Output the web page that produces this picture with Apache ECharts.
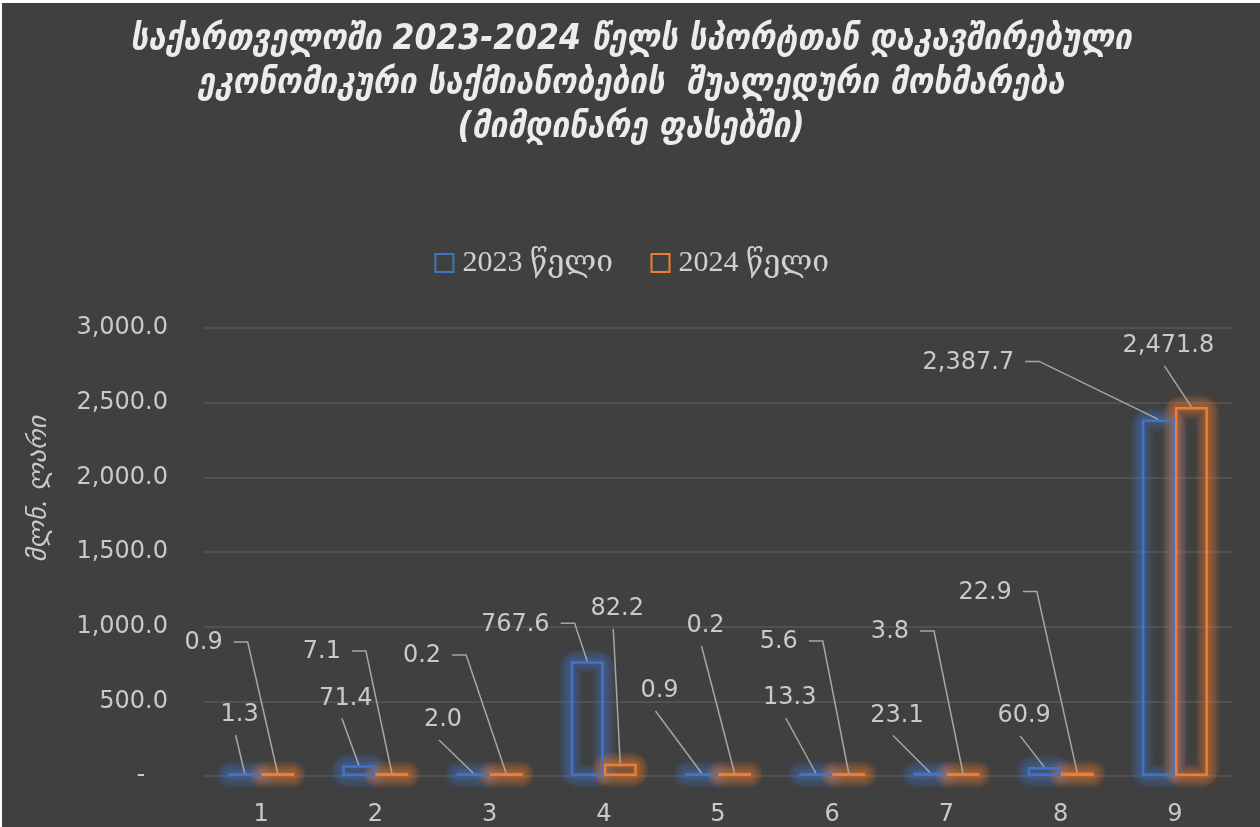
<!DOCTYPE html>
<html>
<head>
<meta charset="utf-8">
<script src="https://cdn.jsdelivr.net/npm/echarts@6/dist/echarts.min.js"></script>
<style>
html,body{margin:0;padding:0;background:#ffffff;}
#chart{position:absolute;left:2px;top:3px;width:1258px;height:824px;}
</style>
</head>
<body>
<div id="chart"></div>
<script>
// ---- data ----
const categories = ['1','2','3','4','5','6','7','8','9'];
const seriesNames = ['2023 წელი', '2024 წელი'];
const values2023 = [1.3, 71.4, 2.0, 767.6, 0.9, 13.3, 23.1, 60.9, 2387.7];
const values2024 = [0.9, 7.1, 0.2, 82.2, 0.2, 5.6, 3.8, 22.9, 2471.8];
const yTicks = [0, 500, 1000, 1500, 2000, 2500, 3000];
const titleText = 'საქართველოში 2023-2024 წელს სპორტთან დაკავშირებული\nეკონომიკური საქმიანობების  შუალედური მოხმარება\n(მიმდინარე ფასებში)';
const yAxisName = 'მლნ. ლარი';

// ---- label placement (offset of label centre from bar top centre, and leader style) ----
const labelPlacement = [
  [[-5,-58,'d'],[-13,-67,'d'],[-30,-53,'d'],[-72,-37,'e'],[-42,-82,'d'],[-26,-75,'d'],[-33,-57,'d'],[-20,-51,'d'],[-190,-57,'e']],
  [[-74,-130,'e'],[-70,-121,'e'],[-84,-117,'e'],[-3,-155,'d'],[-29,-147,'d'],[-70,-131,'e'],[-73,-141,'e'],[-92,-180,'e'],[-23,-61,'d']]
];

const colors = ['#4472C4', '#ED7D31'];
const glowRGB = ['68,114,196', '237,125,49'];
const glowWidths = [22, 17, 12, 8, 5];
const BAR_W = 33;
const MIN_H = 3;
const numFmt = v => Number(v).toLocaleString('en-US', {minimumFractionDigits:1, maximumFractionDigits:1});
const numFont = 'DejaVu Sans';
const labelFontCss = '24px "DejaVu Sans"';
const measureCtx = document.createElement('canvas').getContext('2d');
measureCtx.font = labelFontCss;

const allValues = [values2023, values2024];
const pointData = [];
allValues.forEach((arr, s) => arr.forEach((v, i) => pointData.push([i, v, s])));

function makeSeries(i, data) {
  return {
    name: seriesNames[i],
    type: 'bar',
    data: data,
    barWidth: BAR_W,
    barGap: '0%',
    barMinHeight: MIN_H,
    z: 3,
    itemStyle: {
      color: 'none',
      borderColor: colors[i],
      borderWidth: 2.5
    }
  };
}

function barGeom(api) {
  const i = api.value(0), v = api.value(1), s = api.value(2);
  const p = api.coord([i, v]);
  const base = api.coord([i, 0]);
  const x0 = p[0] + (s === 0 ? -BAR_W : 0);
  const top = Math.min(p[1], base[1] - MIN_H);
  return {i, v, s, x0, top, bottom: base[1], cx: x0 + BAR_W / 2};
}

function renderGlow(params, api) {
  const g = barGeom(api);
  return {
    type: 'group',
    children: glowWidths.map((w, k) => ({
      type: 'rect',
      shape: {x: g.x0, y: g.top, width: BAR_W, height: g.bottom - g.top, r: k === 0 ? 8 : 4},
      style: {
        fill: null,
        stroke: 'rgba(' + glowRGB[g.s] + ',0.12)',
        lineWidth: w,
        lineJoin: 'round',
        shadowBlur: k === 0 ? 8 : 0,
        shadowColor: 'rgba(' + glowRGB[g.s] + ',0.5)'
      }
    }))
  };
}

function renderLabel(params, api) {
  const g = barGeom(api);
  const pl = labelPlacement[g.s][g.i];
  const x = g.cx + pl[0], y = g.top + pl[1];
  const text = numFmt(g.v);
  const w = measureCtx.measureText(text).width;
  const h = 28;
  let pts;
  if (pl[2] === 'e') {
    pts = [[x + w / 2 + 11, y - 1], [x + w / 2 + 25, y - 1], [g.cx, g.top]];
  } else {
    pts = [[x - 4, y + h / 2 + 6], [g.cx, g.top]];
  }
  return {
    type: 'group',
    children: [
      {type: 'polyline', shape: {points: pts}, style: {stroke: '#a6a6a6', lineWidth: 1.5, fill: null}},
      {type: 'text', x: x, y: y, style: {text: text, fill: '#c9c9c9', font: labelFontCss, textAlign: 'center', textVerticalAlign: 'middle'}}
    ]
  };
}

const chart = echarts.init(document.getElementById('chart'));
chart.setOption({
  backgroundColor: '#404040',
  animation: false,
  title: {
    text: titleText,
    left: 'center',
    top: 10,
    textStyle: {
      color: '#ececec',
      fontSize: 35,
      fontWeight: 'bold',
      fontStyle: 'italic',
      fontFamily: 'DejaVu Sans Condensed',
      lineHeight: 44
    }
  },
  legend: {
    data: seriesNames,
    top: 240,
    left: 'center',
    itemWidth: 18,
    itemHeight: 18,
    itemGap: 36,
    icon: 'rect',
    textStyle: {color: '#d0d0d0', fontSize: 30, fontFamily: 'Liberation Serif, DejaVu Serif', padding: [0, 0, 0, 4]}
  },
  grid: {left: 202, right: 28, top: 325, bottom: 47, containLabel: false},
  xAxis: {
    type: 'category',
    data: categories,
    axisLine: {show: false},
    axisTick: {show: false},
    axisLabel: {color: '#c9c9c9', fontSize: 24, fontFamily: numFont, margin: 27}
  },
  yAxis: {
    type: 'value',
    min: yTicks[0],
    max: yTicks[yTicks.length - 1],
    interval: yTicks[1] - yTicks[0],
    axisLine: {show: false},
    axisTick: {show: false},
    splitLine: {lineStyle: {color: '#575757', width: 1.5}},
    axisLabel: {
      color: '#c9c9c9', fontSize: 24, fontFamily: numFont, margin: 36,
      formatter: v => v === 0 ? '-   ' : numFmt(v)
    }
  },
  graphic: [{
    type: 'text',
    x: 37,
    y: 486,
    rotation: Math.PI / 2,
    style: {
      text: yAxisName,
      fill: '#c9c9c9',
      font: 'italic 26px "DejaVu Sans"',
      textAlign: 'center',
      textVerticalAlign: 'middle'
    }
  }],
  series: [
    makeSeries(0, values2023),
    makeSeries(1, values2024),
    {
      name: 'glow',
      type: 'custom',
      coordinateSystem: 'cartesian2d',
      data: pointData,
      encode: {x: 0, y: 1},
      renderItem: renderGlow,
      silent: true,
      z: 1
    },
    {
      name: 'labels',
      type: 'custom',
      coordinateSystem: 'cartesian2d',
      data: pointData,
      encode: {x: 0, y: 1},
      renderItem: renderLabel,
      silent: true,
      z: 5
    }
  ]
});
</script>
</body>
</html>
